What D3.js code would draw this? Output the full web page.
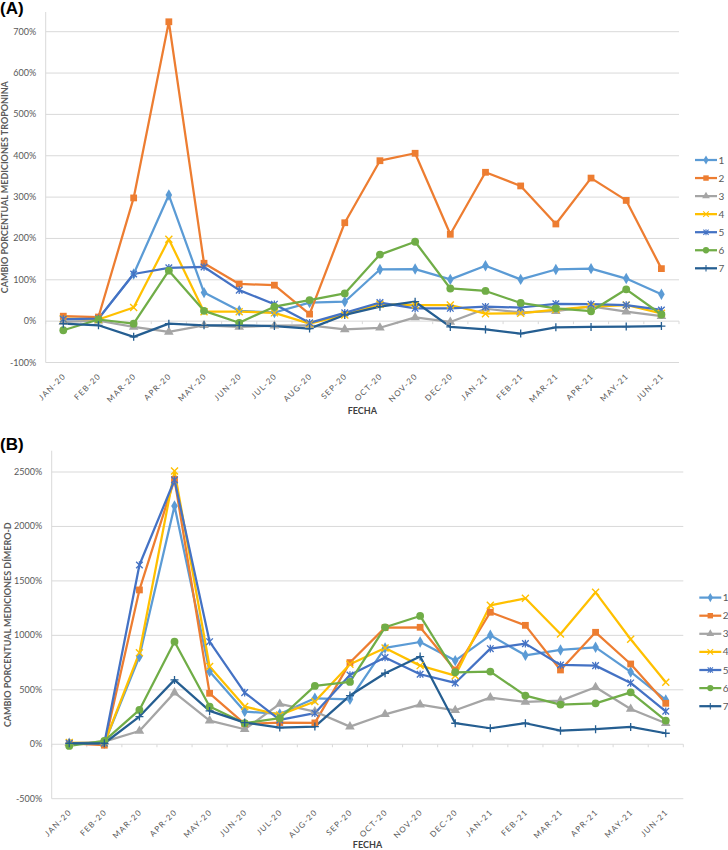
<!DOCTYPE html>
<html><head><meta charset="utf-8">
<script src="https://cdn.jsdelivr.net/npm/d3@7"></script>
<style>body{margin:0;background:#fff}svg{display:block}</style></head>
<body>
<svg id="c" width="728" height="850"></svg>
<script>
const months = ["JAN-20","FEB-20","MAR-20","APR-20","MAY-20","JUN-20","JUL-20","AUG-20","SEP-20","OCT-20","NOV-20","DEC-20","JAN-21","FEB-21","MAR-21","APR-21","MAY-21","JUN-21"];
const seriesNames = ["1","2","3","4","5","6","7"];
const seriesColors = ["#5B9BD5","#ED7D31","#A5A5A5","#FFC000","#4472C4","#70AD47","#255E91"];
const seriesMarkers = ["diamond","square","triangle","x","star","circle","plus"];

// Panel A: troponina (% change)
const tropo1 = [4,6,114,305,69,25,21,45,47,125,126,101,134,101,125,127,103,65];
const tropo2 = [12,10,298,724,140,90,87,17,238,388,406,210,360,327,235,346,292,127];
const tropo3 = [-2,1,-14,-26,-10,-14,-11,-10,-20,-16,9,-2,30,21,24,36,23,12];
const tropo4 = [6,4,33,198,23,23,20,-6,15,41,39,39,18,19,28,35,39,19];
const tropo5 = [5,6,114,129,131,75,41,-4,20,45,31,31,35,33,42,41,39,27];
const tropo6 = [-22,4,-6,122,25,-4,35,51,67,161,192,79,73,44,31,24,77,16];
const tropo7 = [-6,-10,-38,-6,-10,-10,-12,-18,15,35,47,-14,-20,-30,-15,-14,-13,-12];

// Panel B: dimero-D (% change)
const dimero1 = [9,9,805,2188,667,300,278,422,413,884,939,768,1000,817,866,890,664,407];
const dimero2 = [9,-9,1417,2433,468,187,199,196,750,1071,1074,682,1212,1092,682,1028,737,376];
const dimero3 = [9,24,122,474,217,138,370,300,162,275,364,312,428,389,401,523,324,193];
const dimero4 = [15,9,841,2509,713,346,269,392,734,884,722,630,1276,1340,1013,1395,964,569];
const dimero5 = [9,9,1646,2427,942,474,223,285,636,796,643,563,878,924,728,722,563,303];
const dimero6 = [-15,31,315,942,346,193,239,536,572,1074,1178,661,667,447,364,376,477,217];
const dimero7 = [9,9,254,591,306,199,153,162,447,652,805,193,147,193,125,138,159,101];

const yTicksA = [-100,0,100,200,300,400,500,600,700];
const yTicksB = [-500,0,500,1000,1500,2000,2500];

const svg = d3.select("#c");
const FONT = "Lato, 'Open Sans', sans-serif";
const GRID = "#D9D9D9";
const TXT = "#595959";

function drawMarker(g, type, color) {
  switch (type) {
    case "diamond": g.append("path").attr("d", d3.symbol(d3.symbolDiamond, 38)()).attr("fill", color); break;
    case "square": g.append("path").attr("d", d3.symbol(d3.symbolSquare, 46)()).attr("fill", color); break;
    case "triangle": g.append("path").attr("d", d3.symbol(d3.symbolTriangle, 40)()).attr("fill", color); break;
    case "circle": g.append("path").attr("d", d3.symbol(d3.symbolCircle, 48)()).attr("fill", color); break;
    case "x": g.append("path").attr("d", "M-3.5,-3.5L3.5,3.5M-3.5,3.5L3.5,-3.5").attr("stroke", color).attr("stroke-width", 1.4).attr("fill", "none"); break;
    case "star": g.append("path").attr("d", "M-3.3,-3.3L3.3,3.3M-3.3,3.3L3.3,-3.3M0,-3.8L0,3.8").attr("stroke", color).attr("stroke-width", 1.3).attr("fill", "none"); break;
    case "plus": g.append("path").attr("d", "M-4,0L4,0M0,-4L0,4").attr("stroke", color).attr("stroke-width", 1.3).attr("fill", "none"); break;
  }
}

function drawPanel(cfg) {
  const g = svg.append("g");
  const x = d3.scaleBand().domain(months).range([cfg.left, cfg.right]);
  const y = d3.scaleLinear().domain(cfg.domain).range(cfg.yRange);
  const cx = m => x(m) + x.bandwidth() / 2;

  // gridlines
  g.append("g").selectAll("line").data(cfg.ticks).join("line")
    .attr("x1", cfg.left).attr("x2", cfg.right)
    .attr("y1", d => y(d)).attr("y2", d => y(d))
    .attr("stroke", GRID).attr("stroke-width", 1);
  // vertical axis line
  g.append("line").attr("x1", cfg.left).attr("x2", cfg.left)
    .attr("y1", cfg.axisTop).attr("y2", y(cfg.domain[0]))
    .attr("stroke", GRID).attr("stroke-width", 1);
  // horizontal axis at 0 with tick marks at band edges
  const edges = months.map(m => x(m)).concat([cfg.right]);
  g.append("g").selectAll("line").data(edges).join("line")
    .attr("x1", d => d).attr("x2", d => d)
    .attr("y1", y(0)).attr("y2", y(0) + 3)
    .attr("stroke", GRID).attr("stroke-width", 1);

  // y tick labels
  g.append("g").selectAll("text").data(cfg.ticks).join("text")
    .attr("x", cfg.left - 9.5).attr("y", d => y(d) + 3)
    .attr("text-anchor", "end").attr("font-family", FONT).attr("font-size", 9)
    .attr("fill", TXT).text(d => d + "%");

  // x labels
  const yb = y(cfg.domain[0]);
  g.append("g").selectAll("text").data(months).join("text")
    .attr("transform", m => `translate(${cx(m) + 3},${yb + 14}) rotate(-45)`)
    .attr("text-anchor", "end").attr("font-family", FONT).attr("font-size", 8)
    .attr("letter-spacing", 1.2).attr("fill", TXT).text(m => m);

  // axis titles
  g.append("text").attr("x", (cfg.left + cfg.right) / 2).attr("y", cfg.xTitleY)
    .attr("text-anchor", "middle").attr("font-family", FONT).attr("font-size", 9)
    .attr("font-weight", "bold").attr("fill", "#404040").text("FECHA");
  g.append("text")
    .attr("transform", `translate(${cfg.yTitleX},${(cfg.axisTop + yb) / 2}) rotate(-90)`)
    .attr("text-anchor", "middle").attr("font-family", FONT).attr("font-size", 9)
    .attr("font-weight", "bold").attr("fill", TXT).text(cfg.yTitle);

  // panel label
  g.append("text").attr("x", 0).attr("y", cfg.labelY)
    .attr("font-family", "Liberation Sans, Arial, sans-serif").attr("font-size", 17)
    .attr("font-weight", "bold").attr("fill", "#000").text(cfg.label);

  // series
  const line = d3.line().x((d, i) => cx(months[i])).y(d => y(d));
  cfg.data.forEach((vals, si) => {
    g.append("path").attr("d", line(vals)).attr("fill", "none")
      .attr("stroke", seriesColors[si]).attr("stroke-width", 2.25)
      .attr("stroke-linejoin", "round");
  });
  cfg.data.forEach((vals, si) => {
    vals.forEach((v, i) => {
      const mg = g.append("g").attr("transform", `translate(${cx(months[i])},${y(v)})`);
      drawMarker(mg, seriesMarkers[si], seriesColors[si]);
    });
  });

  // legend
  seriesNames.forEach((n, si) => {
    const ly = cfg.legY + si * cfg.legStep;
    g.append("line").attr("x1", cfg.legX).attr("x2", cfg.legX + 22)
      .attr("y1", ly).attr("y2", ly).attr("stroke", seriesColors[si]).attr("stroke-width", 2.25);
    const mg = g.append("g").attr("transform", `translate(${cfg.legX + 11},${ly}) scale(0.8)`);
    drawMarker(mg, seriesMarkers[si], seriesColors[si]);
    g.append("text").attr("x", cfg.legX + 23.5).attr("y", ly + 3.5)
      .attr("font-family", FONT).attr("font-size", 10).attr("fill", TXT).text(n);
  });
}

drawPanel({
  data: [tropo1, tropo2, tropo3, tropo4, tropo5, tropo6, tropo7],
  left: 45.7, right: 679, domain: [-100, 700], yRange: [362.5, 31.7], axisTop: 12,
  ticks: yTicksA, xTitleY: 414, yTitleX: 8, labelY: 14, label: "(A)",
  yTitle: "CAMBIO PORCENTUAL MEDICIONES TROPONINA",
  legX: 695, legY: 160, legStep: 18.05
});
drawPanel({
  data: [dimero1, dimero2, dimero3, dimero4, dimero5, dimero6, dimero7],
  left: 51.7, right: 683.3, domain: [-500, 2500], yRange: [798.7, 472], axisTop: 450.7,
  ticks: yTicksB, xTitleY: 847.5, yTitleX: 10.5, labelY: 450, label: "(B)",
  yTitle: "CAMBIO PORCENTUAL MEDICIONES DÍMERO-D",
  legX: 699.3, legY: 597.6, legStep: 18.1
});
</script>
</body></html>
